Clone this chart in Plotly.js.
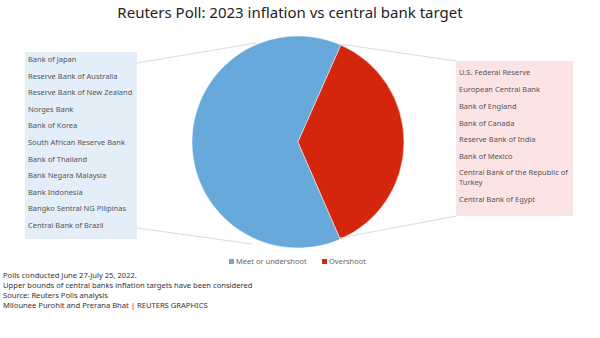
<!DOCTYPE html>
<html>
<head>
<meta charset="utf-8">
<script src="https://cdn.plot.ly/plotly-3.0.1.min.js"></script>
<style>html,body{margin:0;padding:0;background:#fff;}#chart{width:600px;height:338px;}</style>
</head>
<body>
<div id="chart"></div>
<script>
// Data
const categories = ["Meet or undershoot", "Overshoot"];
const values = [12, 7];
const colors = ["#68a9dc", "#d4260c"];
const meetBanks = ["Bank of Japan", "Reserve Bank of Australia", "Reserve Bank of New Zealand", "Norges Bank", "Bank of Korea", "South African Reserve Bank", "Bank of Thailand", "Bank Negara Malaysia", "Bank Indonesia", "Bangko Sentral NG Pilipinas", "Central Bank of Brazil"];
const overBanks = ["U.S. Federal Reserve", "European Central Bank", "Bank of England", "Bank of Canada", "Reserve Bank of India", "Bank of Mexico", "Central Bank of the Republic of<br>Turkey", "Central Bank of Egypt"];
const footer = ["Polls conducted June 27-July 25, 2022.", "Upper bounds of central banks inflation targets have been considered", "Source: Reuters Polls analysis", "Milounee Purohit and Prerana Bhat | REUTERS GRAPHICS"];

const W = 600, H = 338;
const px = x => x / W;
const py = y => 1 - y / H;
const font = "Noto Sans, Lato, sans-serif";

const annotations = [];
meetBanks.forEach((b, i) => {
  annotations.push({xref: "paper", yref: "paper", x: px(26), y: py(59 + i * 16.6), xanchor: "left", yanchor: "middle",
    text: b, showarrow: false, align: "left", font: {family: font, size: 7.5, color: "#555"}});
});
const rightY = [72, 89, 106, 123, 139, 156, 177, 199];
overBanks.forEach((b, i) => {
  annotations.push({xref: "paper", yref: "paper", x: px(457), y: py(rightY[i]), xanchor: "left", yanchor: "middle",
    text: b, showarrow: false, align: "left", font: {family: font, size: 7.5, color: "#555"}});
});
annotations.push({xref: "paper", yref: "paper", x: px(1), y: py(268), xanchor: "left", yanchor: "top",
  text: footer.join("<br>"), showarrow: false, align: "left", font: {family: font, size: 7.6, color: "#333"}});

// manual legend
const legendX = [229, 322];
categories.forEach((c, i) => {
  annotations.push({xref: "paper", yref: "paper", x: px(legendX[i] + 5), y: py(261), xanchor: "left", yanchor: "middle",
    text: c, showarrow: false, align: "left", font: {family: font, size: 7.5, color: "#666"}});
});

const shapes = [
  {type: "rect", xref: "paper", yref: "paper", x0: px(25), x1: px(137), y0: py(52), y1: py(239), fillcolor: "#e4eef9", line: {width: 0}, layer: "below"},
  {type: "rect", xref: "paper", yref: "paper", x0: px(456), x1: px(573), y0: py(61), y1: py(216), fillcolor: "#fde4e4", line: {width: 0}, layer: "below"},
  {type: "line", xref: "paper", yref: "paper", x0: px(137), y0: py(63), x1: px(256), y1: py(43), line: {color: "#dcdcdc", width: 1}},
  {type: "line", xref: "paper", yref: "paper", x0: px(137), y0: py(228), x1: px(252), y1: py(244), line: {color: "#dcdcdc", width: 1}},
  {type: "line", xref: "paper", yref: "paper", x0: px(340), y0: py(44), x1: px(456), y1: py(61), line: {color: "#dcdcdc", width: 1}},
  {type: "line", xref: "paper", yref: "paper", x0: px(340), y0: py(238), x1: px(456), y1: py(216), line: {color: "#dcdcdc", width: 1}}
];
categories.forEach((c, i) => {
  shapes.push({type: "rect", xref: "paper", yref: "paper", x0: px(legendX[i]), x1: px(legendX[i] + 5), y0: py(259), y1: py(264),
    fillcolor: colors[i], line: {width: 0}});
});

const data = [{
  type: "pie",
  labels: categories,
  values: values,
  marker: {colors: colors, line: {color: "#ffffff", width: 0.5}},
  sort: false,
  direction: "counterclockwise",
  rotation: 156.5,
  textinfo: "none",
  hoverinfo: "label+value",
  showlegend: false,
  domain: {x: [px(192), px(404)], y: [py(249), py(35)]}
}];

const layout = {
  width: W, height: H,
  margin: {l: 0, r: 0, t: 0, b: 0},
  paper_bgcolor: "#ffffff",
  title: {text: "Reuters Poll: 2023 inflation vs central bank target", x: px(290), xanchor: "center", y: py(13), yanchor: "middle",
    font: {family: font, size: 15, color: "#222"}},
  showlegend: false,
  annotations: annotations,
  shapes: shapes
};

Plotly.newPlot("chart", data, layout, {displayModeBar: false, staticPlot: true});
</script>
</body>
</html>
